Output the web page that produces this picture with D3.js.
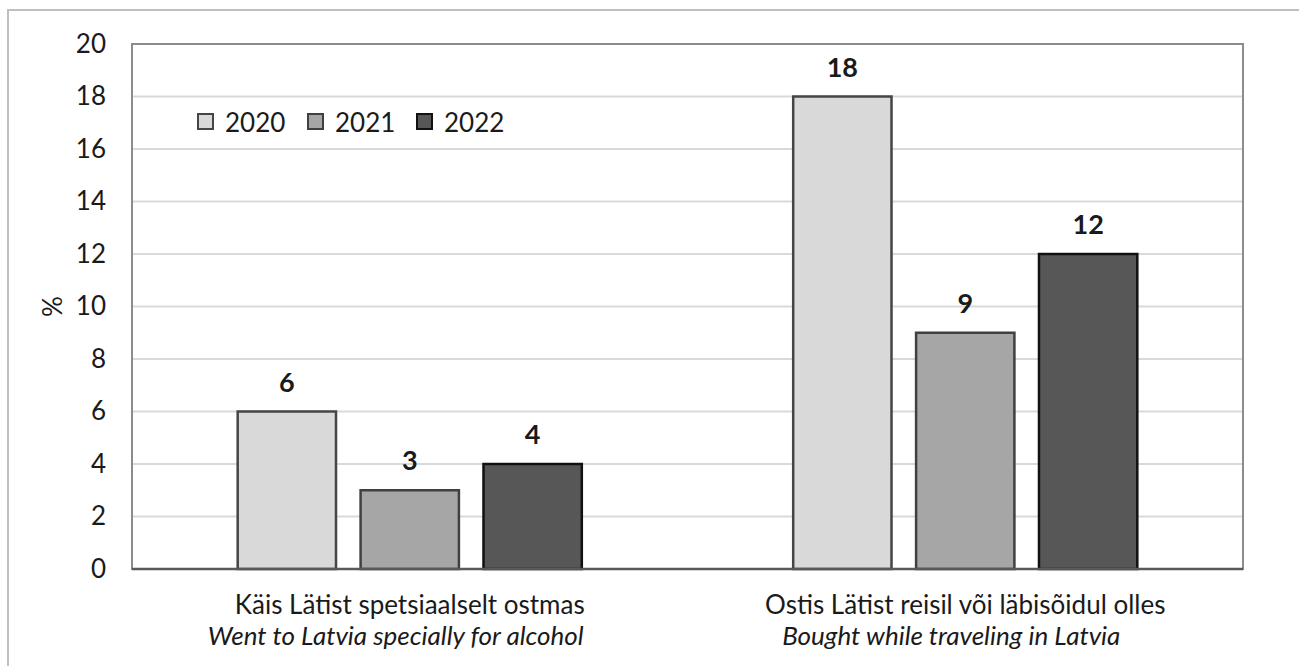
<!DOCTYPE html>
<html lang="et">
<head>
  <meta charset="UTF-8">
  <title>Alkoholi ostmine Lätist</title>
  <script src="https://d3js.org/d3.v7.min.js"></script>
  <style>
    body { margin: 0; padding: 0; background: white; }
    svg { display: block; font-family: Lato, "Open Sans", sans-serif; }
  </style>
</head>
<body>
  <svg id="chart" width="1299" height="666"></svg>

  <script>
    // Data
    const categories = ["Käis Lätist spetsiaalselt ostmas", "Ostis Lätist reisil või läbisõidul olles"];
    const categoriesEn = ["Went to Latvia specially for alcohol", "Bought while traveling in Latvia"];
    const years = ["2020", "2021", "2022"];
    const values2020 = [6, 18];
    const values2021 = [3, 9];
    const values2022 = [4, 12];
    const yTicks = [0, 2, 4, 6, 8, 10, 12, 14, 16, 18, 20];

    const seriesValues = { "2020": values2020, "2021": values2021, "2022": values2022 };
    const fills = { "2020": "#d9d9d9", "2021": "#a6a6a6", "2022": "#575757" };
    const strokes = { "2020": "#454545", "2021": "#404040", "2022": "#111111" };

    const svg = d3.select("#chart");
    const W = +svg.attr("width");
    const H = +svg.attr("height");

    // plot area
    const m = { left: 132, top: 44, right: 1243, bottom: 569 };

    // outer frame (only top and left edges visible)
    svg.append("rect")
      .attr("x", 8).attr("y", 10)
      .attr("width", W + 20).attr("height", H + 20)
      .attr("fill", "none").attr("stroke", "#bfbfbf").attr("stroke-width", 2);

    const y = d3.scaleLinear().domain([0, 20]).range([m.bottom, m.top]);
    const x0 = d3.scaleBand().domain(categories).range([m.left, m.right]).padding(0);
    const x1 = d3.scaleBand().domain(years).range([0, x0.bandwidth()])
      .paddingInner(0.2).paddingOuter(0.86);

    // gridlines
    svg.append("g").selectAll("line")
      .data(yTicks.filter(d => d > 0 && d < 20))
      .join("line")
      .attr("x1", m.left).attr("x2", m.right)
      .attr("y1", d => y(d)).attr("y2", d => y(d))
      .attr("stroke", "#d9d9d9").attr("stroke-width", 2);

    // plot border
    svg.append("rect")
      .attr("x", m.left).attr("y", m.top)
      .attr("width", m.right - m.left).attr("height", m.bottom - m.top)
      .attr("fill", "none").attr("stroke", "#8c8c8c").attr("stroke-width", 2);

    // y axis labels
    const yAxis = d3.axisLeft(y).tickValues(yTicks).tickSize(0).tickPadding(26);
    const gy = svg.append("g").attr("transform", `translate(${m.left},0)`).call(yAxis);
    gy.select(".domain").remove();
    gy.selectAll("text")
      .attr("font-family", "Lato, sans-serif")
      .attr("font-size", 26)
      .attr("fill", "#1a1a1a");

    // y title
    svg.append("text")
      .attr("transform", `translate(52,${(m.top + m.bottom) / 2}) rotate(-90)`)
      .attr("text-anchor", "middle")
      .attr("dominant-baseline", "central")
      .attr("font-size", 26)
      .attr("fill", "#1a1a1a")
      .text("%");

    // bars
    const rows = categories.map((c, i) => years.map(yr => ({ cat: c, year: yr, value: seriesValues[yr][i] })));
    const groups = svg.append("g").selectAll("g")
      .data(rows)
      .join("g")
      .attr("transform", (d, i) => `translate(${x0(categories[i])},0)`);

    groups.selectAll("rect")
      .data(d => d)
      .join("rect")
      .attr("x", d => x1(d.year))
      .attr("y", d => y(d.value))
      .attr("width", x1.bandwidth())
      .attr("height", d => y(0) - y(d.value))
      .attr("fill", d => fills[d.year])
      .attr("stroke", d => strokes[d.year])
      .attr("stroke-width", 2.5);

    // value labels
    groups.selectAll("text")
      .data(d => d)
      .join("text")
      .attr("x", d => x1(d.year) + x1.bandwidth() / 2)
      .attr("y", d => y(d.value) - 20)
      .attr("text-anchor", "middle")
      .attr("font-size", 27)
      .attr("font-weight", "bold")
      .attr("fill", "#1a1a1a")
      .text(d => d.value);

    // x axis line
    svg.append("line")
      .attr("x1", m.left).attr("x2", m.right)
      .attr("y1", y(0)).attr("y2", y(0))
      .attr("stroke", "#595959").attr("stroke-width", 2.5);

    // category labels (two lines)
    const catG = svg.append("g").selectAll("g")
      .data(categories)
      .join("g")
      .attr("transform", d => `translate(${x0(d) + x0.bandwidth() / 2},0)`);
    catG.append("text")
      .attr("y", 614)
      .attr("text-anchor", "middle")
      .attr("font-size", 26)
      .attr("fill", "#1a1a1a")
      .text(d => d);
    catG.append("text")
      .attr("x", -14)
      .attr("y", 645)
      .attr("text-anchor", "middle")
      .attr("font-size", 26)
      .attr("font-style", "italic")
      .attr("fill", "#1a1a1a")
      .text((d, i) => categoriesEn[i]);

    // legend
    const legendX = d3.scaleOrdinal().domain(years).range([198, 308, 417]);
    const lg = svg.append("g").selectAll("g")
      .data(years)
      .join("g")
      .attr("transform", d => `translate(${legendX(d)},114)`);
    lg.append("rect")
      .attr("width", 15).attr("height", 15)
      .attr("fill", d => fills[d])
      .attr("stroke", d => strokes[d])
      .attr("stroke-width", 2);
    lg.append("text")
      .attr("x", 27).attr("y", 8)
      .attr("dominant-baseline", "central")
      .attr("font-size", 26)
      .attr("fill", "#1a1a1a")
      .text(d => d);
  </script>
</body>
</html>
